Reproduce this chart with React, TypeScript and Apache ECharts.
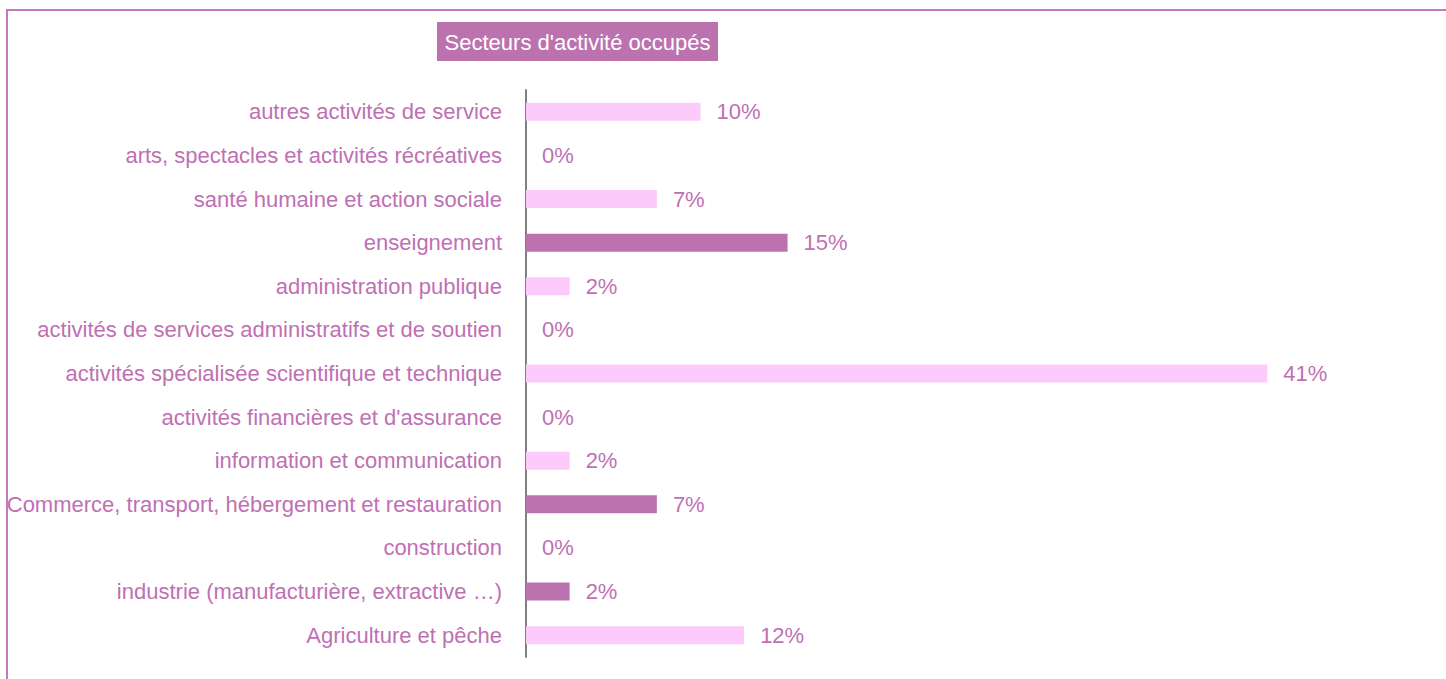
import React, { useEffect, useRef } from "react";
import * as echarts from "echarts";

const categories = [
  "Agriculture et pêche",
  "industrie (manufacturière, extractive …)",
  "construction",
  "Commerce, transport, hébergement et restauration",
  "information et communication",
  "activités financières et d'assurance",
  "activités spécialisée scientifique et technique",
  "activités de services administratifs et de soutien",
  "administration publique",
  "enseignement",
  "santé humaine et action sociale",
  "arts, spectacles et activités récréatives",
  "autres activités de service",
];

const values = [12.2, 2.44, 0, 7.32, 2.44, 0, 41.46, 0, 2.44, 14.63, 7.32, 0, 9.76];

const highlighted = [false, true, false, true, false, false, false, false, false, true, false, false, false];

const titleText = "Secteurs d'activité occupés";

const LIGHT = "#fccbfc";
const DARK = "#bd72b0";
const TEXT = "#bf70b3";
const FONT = "'Liberation Sans', Arial, sans-serif";

export default function App() {
  const ref = useRef<HTMLDivElement>(null);
  useEffect(() => {
    if (!ref.current) return;
    const chart = echarts.init(ref.current, null, { renderer: "svg" });
    chart.setOption({
      animation: false,
      backgroundColor: "#ffffff",
      grid: {
        left: 526,
        top: 90,
        width: 894,
        height: 567,
        containLabel: false,
        outerBoundsMode: "none",
      },
      xAxis: {
        type: "value",
        min: 0,
        max: 50,
        show: false,
      },
      yAxis: {
        type: "category",
        data: categories,
        axisLine: { show: true, lineStyle: { color: "#808080", width: 2 } },
        axisTick: { show: false },
        splitLine: { show: false },
        axisLabel: {
          color: TEXT,
          fontFamily: FONT,
          fontSize: 22,
          margin: 24,
        },
      },
      series: [
        {
          type: "bar",
          barWidth: 18,
          data: values.map((v, i) => ({
            value: v,
            itemStyle: { color: highlighted[i] ? DARK : LIGHT },
          })),
          label: {
            show: true,
            position: "right",
            distance: 16,
            color: TEXT,
            fontFamily: FONT,
            fontSize: 22,
            formatter: (p: any) => Math.round(p.value) + "%",
          },
        },
      ],
      graphic: [
        {
          type: "rect",
          shape: { x: 7, y: 10, width: 1600, height: 800 },
          style: { fill: "none", stroke: "#c878c0", lineWidth: 2 },
          silent: true,
        },
        {
          type: "rect",
          shape: { x: 437, y: 22, width: 281, height: 39 },
          style: { fill: DARK },
        },
        {
          type: "text",
          x: 577.5,
          y: 42,
          style: {
            text: titleText,
            fill: "#ffffff",
            font: "22px " + FONT,
            align: "center",
            verticalAlign: "middle",
          },
        },
      ],
    });
    return () => chart.dispose();
  }, []);
  return (
    <div
      ref={ref}
      style={{ position: "fixed", left: 0, top: 0, width: 1446, height: 679 }}
    />
  );
}
